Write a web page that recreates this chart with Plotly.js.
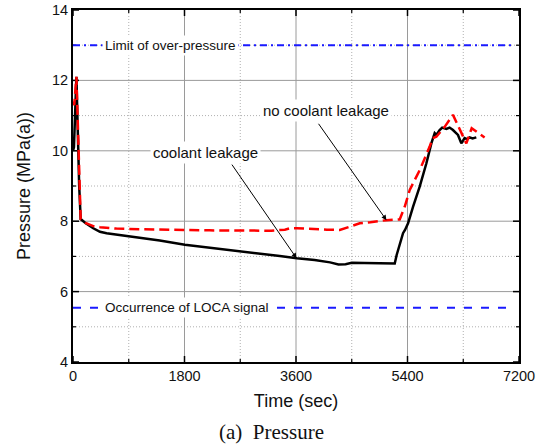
<!DOCTYPE html>
<html>
<head>
<meta charset="utf-8">
<script src="https://cdn.plot.ly/plotly-3.0.1.min.js"></script>
<style>html,body{margin:0;padding:0;background:#fff;}#chart{width:544px;height:445px;}</style>
</head>
<body>
<div id="chart"></div>
<script>
// Time (sec) and pressure (MPa(a))
var tLeak = [0, 15, 55, 75, 100, 124, 200, 327, 435, 543, 800, 1081, 1400, 1806, 2200, 2694, 3000, 3339, 3613, 3900, 4150, 4285, 4400, 4500, 4700, 4900, 5100, 5194, 5225, 5247, 5280, 5328, 5360, 5409, 5489, 5597, 5704, 5785, 5839, 5866, 5919, 5960, 6027, 6080, 6134, 6215, 6269, 6322, 6360, 6403, 6450, 6511];
var pLeak = [10.0, 10.1, 12.1, 10.6, 9.0, 8.06, 7.95, 7.80, 7.70, 7.66, 7.60, 7.54, 7.45, 7.33, 7.25, 7.16, 7.10, 7.01, 6.95, 6.90, 6.83, 6.77, 6.78, 6.82, 6.81, 6.80, 6.79, 6.80, 7.04, 7.18, 7.38, 7.66, 7.75, 7.94, 8.41, 8.98, 9.64, 10.21, 10.50, 10.45, 10.59, 10.66, 10.62, 10.66, 10.59, 10.45, 10.21, 10.36, 10.33, 10.38, 10.35, 10.38];

var tNoLeak = [0, 20, 55, 90, 124, 200, 327, 435, 700, 1081, 1500, 1806, 2200, 2700, 3200, 3420, 3500, 3613, 3800, 4100, 4307, 4468, 4629, 4800, 5060, 5274, 5355, 5436, 5597, 5758, 5807, 5866, 6000, 6134, 6350, 6436, 6533, 6645];
var pNoLeak = [11.4, 11.3, 12.1, 10.0, 8.06, 7.95, 7.86, 7.83, 7.79, 7.77, 7.75, 7.75, 7.74, 7.73, 7.73, 7.76, 7.80, 7.80, 7.78, 7.76, 7.75, 7.84, 7.94, 7.97, 8.03, 8.05, 8.41, 8.89, 9.45, 10.12, 10.36, 10.40, 10.68, 11.02, 10.21, 10.64, 10.51, 10.38];

// Reference levels
var limitT = [0, 7080];
var limitP = [13, 13];
var locaT = [0, 7000];
var locaP = [5.54, 5.54];

// Axis ranges and tick values
var xRange = [0, 7200];
var yRange = [4, 14];
var xMajor = [0, 1800, 3600, 5400, 7200];
var xMinor = [900, 2700, 4500, 6300];
var yMajor = [4, 6, 8, 10, 12, 14];
var yMinor = [5, 7, 9, 11, 13];

var W = 544, H = 445, M = {l: 73, r: 25, t: 10, b: 83};
var pxX = (xRange[1] - xRange[0]) / (W - M.l - M.r);
var pxY = (yRange[1] - yRange[0]) / (H - M.t - M.b);

var sans = 'Liberation Sans, Arial, sans-serif';
var txt = '#111';

function gridX(vals){ var x = [], y = []; vals.forEach(function(v){ if (v > xRange[0] && v < xRange[1]) { x.push(v, v, null); y.push(yRange[0], yRange[1], null); } }); return {x: x, y: y}; }
function gridY(vals){ var x = [], y = []; vals.forEach(function(v){ if (v > yRange[0] && v < yRange[1]) { x.push(xRange[0], xRange[1], null); y.push(v, v, null); } }); return {x: x, y: y}; }
function ticks(xv, yv, len){
  var x = [], y = [];
  xv.forEach(function(v){ x.push(v, v, null, v, v, null); y.push(yRange[0], yRange[0] + len*pxY, null, yRange[1], yRange[1] - len*pxY, null); });
  yv.forEach(function(v){ y.push(v, v, null, v, v, null); x.push(xRange[0], xRange[0] + len*pxX, null, xRange[1], xRange[1] - len*pxX, null); });
  return {x: x, y: y};
}

var gMinX = gridX(xMinor), gMinY = gridY(yMinor), gMajX = gridX(xMajor), gMajY = gridY(yMajor);
var tMaj = ticks(xMajor, yMajor, 6), tMin = ticks(xMinor, yMinor, 3);

function seg(d, line){ return {x: d.x, y: d.y, mode: 'lines', line: line, hoverinfo: 'skip', connectgaps: false}; }

var traces = [
  seg(gMinX, {color: '#b0b0b0', width: 1, dash: '1px,2px'}),
  seg(gMinY, {color: '#b0b0b0', width: 1, dash: '1px,2px'}),
  seg(gMajX, {color: '#9a9a9a', width: 1}),
  seg(gMajY, {color: '#9a9a9a', width: 1}),
  seg(tMaj, {color: '#000', width: 1.5}),
  seg(tMin, {color: '#000', width: 1.2}),
  {x: limitT, y: limitP, mode: 'lines', line: {color: '#1a1aff', width: 2, dash: '7px,4px,2px,4px'}, hoverinfo: 'skip'},
  {x: locaT, y: locaP, mode: 'lines', line: {color: '#1a1aff', width: 2, dash: '8px,9px'}, hoverinfo: 'skip'},
  {x: tLeak, y: pLeak, mode: 'lines', line: {color: '#000', width: 2.5}, name: 'coolant leakage'},
  {x: tNoLeak, y: pNoLeak, mode: 'lines', line: {color: '#ff0000', width: 2.5, dash: '10px,5px'}, name: 'no coolant leakage'}
];

function axisCommon(){
  return {
    showline: true, linewidth: 2, linecolor: '#000', mirror: true,
    ticks: '', showgrid: false, zeroline: false,
    tickfont: {family: sans, size: 14.5, color: txt}
  };
}

var xa = axisCommon();
Object.assign(xa, {
  range: xRange, tickmode: 'array', tickvals: xMajor, ticktext: xMajor.map(String),
  title: {text: 'Time (sec)', font: {family: sans, size: 18, color: txt}, standoff: 11}
});
var ya = axisCommon();
Object.assign(ya, {
  range: yRange, tickmode: 'array', tickvals: yMajor, ticktext: yMajor.map(String),
  title: {text: 'Pressure (MPa(a))', font: {family: sans, size: 18, color: txt}, standoff: 17}
});

var annFont = {family: sans, size: 15, color: txt};
var lblFont = {family: sans, size: 13.5, color: txt};

var layout = {
  width: W, height: H,
  margin: M,
  paper_bgcolor: '#fff', plot_bgcolor: '#fff',
  showlegend: false,
  xaxis: xa, yaxis: ya,
  annotations: [
    {x: 1573, y: 13, xref: 'x', yref: 'y', text: 'Limit of over-pressure', showarrow: false, font: lblFont, bgcolor: '#fff', borderpad: 2},
    {x: 1847, y: 5.54, xref: 'x', yref: 'y', text: 'Occurrence of LOCA signal', showarrow: false, font: lblFont, bgcolor: '#fff', borderpad: 2},
    {x: 2146, y: 9.94, xref: 'x', yref: 'y', text: 'coolant leakage', showarrow: false, font: annFont, bgcolor: '#fff', borderpad: 2},
    {x: 4081, y: 11.14, xref: 'x', yref: 'y', text: 'no coolant leakage', showarrow: false, font: annFont, bgcolor: '#fff', borderpad: 2},
    {x: 3608, y: 6.95, xref: 'x', yref: 'y', ax: 2549, ay: 9.65, axref: 'x', ayref: 'y', text: '', showarrow: true, arrowhead: 2, arrowsize: 1, arrowwidth: 1, arrowcolor: '#000'},
    {x: 5060, y: 8.03, xref: 'x', yref: 'y', ax: 3947, ay: 10.81, axref: 'x', ayref: 'y', text: '', showarrow: true, arrowhead: 2, arrowsize: 1, arrowwidth: 1, arrowcolor: '#000'},
    {x: 0.445, y: 0, xref: 'paper', yref: 'paper', yanchor: 'middle', yshift: -70, text: '(a)  Pressure', showarrow: false, font: {family: 'Liberation Serif, Times New Roman, serif', size: 21, color: txt}}
  ]
};

Plotly.newPlot('chart', traces, layout, {displayModeBar: false});
</script>
</body>
</html>
